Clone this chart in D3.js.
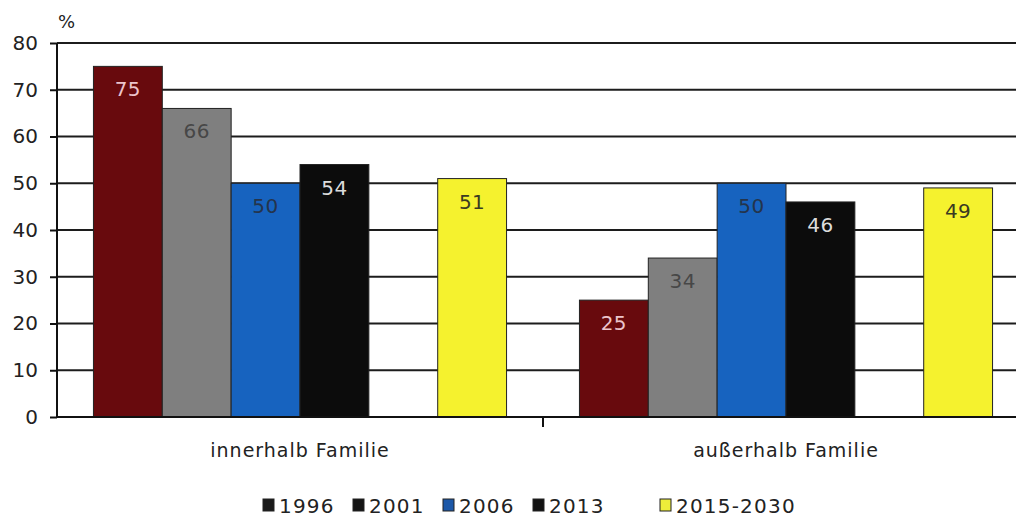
<!DOCTYPE html>
<html><head><meta charset="utf-8">
<script src="https://cdn.jsdelivr.net/npm/d3@7"></script>
<style>html,body{margin:0;padding:0;background:#fff;}svg{display:block;font-family:"DejaVu Sans",Verdana,sans-serif;}</style>
</head><body>
<svg id="chart" width="1016" height="519"></svg>
<script>
// ---- data ----
const groups = ["innerhalb Familie", "außerhalb Familie"];
const seriesKeys = ["1996", "2001", "2006", "2013", "", "2015-2030"]; // "" = empty slot
const values1996 = [75, 25];
const values2001 = [66, 34];
const values2006 = [50, 50];
const values2013 = [54, 46];
const values2015 = [51, 49];
const yTicks = [0, 10, 20, 30, 40, 50, 60, 70, 80];
const legendLabels = ["1996", "2001", "2006", "2013", "2015-2030"];

// ---- styles ----
const barColors = {"1996": "#680a0d", "2001": "#7f7f7f", "2006": "#1763bf", "2013": "#0c0c0c", "2015-2030": "#f5f22e"};
const labelColors = {"1996": "#ecc4cc", "2001": "#474747", "2006": "#24344c", "2013": "#dcdcdc", "2015-2030": "#3a3a22"};
const legendSwatch = ["#1a1a1a", "#141414", "#1c58a8", "#121212", "#eeee3a"];

const seriesValues = {"1996": values1996, "2001": values2001, "2006": values2006, "2013": values2013, "2015-2030": values2015};
const data = groups.map((g, i) => ({group: g, bars: Object.keys(seriesValues).map(k => ({key: k, value: seriesValues[k][i]}))}));

const svg = d3.select("#chart");
const W = 1016;
const axisX = 57, y0px = 417, ytop = 43;

const y = d3.scaleLinear().domain([0, 80]).range([y0px, ytop]);
const x0 = d3.scaleBand().domain(groups).range([axisX, 1029]).paddingInner(0.15).paddingOuter(0.075);
const x1 = d3.scaleBand().domain(seriesKeys).range([0, x0.bandwidth()]).padding(0);

// gridlines
svg.append("g").selectAll("line").data(yTicks.filter(d => d > 0)).join("line")
  .attr("x1", axisX).attr("x2", W).attr("y1", d => y(d)).attr("y2", d => y(d))
  .attr("stroke", "#1c1c1c").attr("stroke-width", 2);

// y axis
const yAxis = svg.append("g").attr("transform", `translate(${axisX},0)`)
  .call(d3.axisLeft(y).tickValues(yTicks).tickSize(7).tickPadding(12));
yAxis.select(".domain").attr("stroke", "#111").attr("stroke-width", 2).attr("d", `M-0,${y0px}V${ytop}`);
yAxis.selectAll(".tick line").attr("stroke", "#111").attr("stroke-width", 2);
yAxis.selectAll(".tick text").attr("font-size", 20).attr("fill", "#222").attr("font-family", "DejaVu Sans");

// "%"
svg.append("text").attr("x", 58).attr("y", 28).attr("font-size", 18).attr("fill", "#222").text("%");

// bars
const gGroups = svg.append("g").selectAll("g").data(data).join("g")
  .attr("transform", d => `translate(${x0(d.group)},0)`);
gGroups.selectAll("rect").data(d => d.bars).join("rect")
  .attr("x", d => x1(d.key)).attr("width", x1.bandwidth())
  .attr("y", d => y(d.value)).attr("height", d => y(0) - y(d.value))
  .attr("fill", d => barColors[d.key]).attr("stroke", "#222").attr("stroke-width", 1);
gGroups.selectAll("text").data(d => d.bars).join("text")
  .attr("x", d => x1(d.key) + x1.bandwidth() / 2).attr("y", d => y(d.value) + 30)
  .attr("text-anchor", "middle").attr("font-size", 20).attr("letter-spacing", 0.5)
  .attr("fill", d => labelColors[d.key])
  .text(d => d.value);

// x axis
const xAxis = svg.append("g").attr("transform", `translate(0,${y0px})`);
xAxis.append("line").attr("x1", axisX).attr("x2", W).attr("stroke", "#111").attr("stroke-width", 2);
const boundaries = [x0(groups[1]) - x0.step() * x0.paddingInner() / 2];
xAxis.selectAll("line.tk").data(boundaries).join("line").attr("class", "tk")
  .attr("x1", d => d).attr("x2", d => d).attr("y1", 0).attr("y2", 10).attr("stroke", "#111").attr("stroke-width", 2);
xAxis.selectAll("text").data(groups).join("text")
  .attr("x", d => x0(d) + x0.bandwidth() / 2).attr("y", 40)
  .attr("text-anchor", "middle").attr("font-size", 19).attr("letter-spacing", 1)
  .attr("fill", "#222").text(d => d);

// legend
const legendX = [263, 353, 443, 533, 660];
const lg = svg.append("g").selectAll("g").data(legendLabels).join("g")
  .attr("transform", (d, i) => `translate(${legendX[i]},0)`);
lg.append("rect").attr("x", 0).attr("y", 499).attr("width", 11).attr("height", 12)
  .attr("fill", (d, i) => legendSwatch[i]).attr("stroke", "#222").attr("stroke-width", 1);
lg.append("text").attr("x", 16).attr("y", 513).attr("font-size", 20).attr("letter-spacing", 1.2)
  .attr("fill", "#222").text(d => d);
</script>
</body></html>
